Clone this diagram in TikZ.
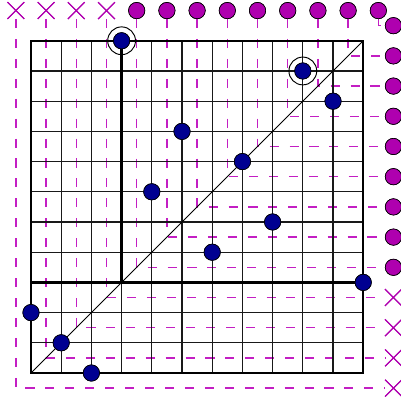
\documentclass[tikz,border=0pt]{standalone}
\usetikzlibrary{shapes.misc}
\definecolor{mag}{RGB}{175,0,175}
\definecolor{magline}{RGB}{195,30,195}
\definecolor{navy}{RGB}{0,0,145}
\tikzset{
  hook/.style={draw=magline, line width=1.2pt, dash pattern=on 0.3cm off 0.36cm},
  gridline/.style={draw=black!90, line width=1pt},
  boldline/.style={draw=black, line width=2.1pt},
  diag/.style={draw=black, line width=0.8pt},
  pdot/.style={circle, draw=black, line width=0.6pt, fill=navy, minimum size=0.54cm, inner sep=0pt},
  ring/.style={circle, draw=black, line width=0.9pt, minimum size=0.92cm, inner sep=0pt},
  mcirc/.style={circle, draw=black, line width=0.6pt, fill=mag, minimum size=0.54cm, inner sep=0pt},
  mcross/.style={cross out, draw=mag, line width=1pt, minimum size=0.52cm, inner sep=0pt},
}
\begin{document}
\begin{tikzpicture}[x=1cm,y=1cm]
\useasboundingbox (-1.026,-0.993) rectangle (12.25,12.35);
% marks on top and right
\foreach \j in {0,...,3} {
  \node[mcross] (t\j) at (\j-0.5,12) {};
  \node[mcross] (r\j) at (12,\j-0.5) {};
}
\foreach \j in {4,...,12} {
  \node[mcirc] (t\j) at (\j-0.5,12) {};
  \node[mcirc] (r\j) at (12,\j-0.5) {};
}
% hooks
\foreach \j in {0,...,12} {
  \coordinate (c\j) at (\j-0.5,\j-0.5);
  \draw[hook] (t\j) -- (c\j) -- (r\j);
}
% grid
\draw[gridline] (0,0) grid (11,11);
\draw[diag] (0,0) -- (11,11);
% permutation points
\node[pdot] (p0) at (2,0) {};
\node[pdot] (p1) at (1,1) {};
\node[pdot] (p2) at (0,2) {};
\node[pdot] (p3) at (11,3) {};
\node[pdot] (p4) at (6,4) {};
\node[pdot] (p5) at (8,5) {};
\node[pdot] (p6) at (4,6) {};
\node[pdot] (p7) at (7,7) {};
\node[pdot] (p8) at (5,8) {};
\node[pdot] (p9) at (10,9) {};
\node[pdot] (p10) at (9,10) {};
\node[pdot] (p11) at (3,11) {};
\coordinate (k1) at (3,3);
\coordinate (k2) at (0,3);
\coordinate (bl) at (0,0);
\coordinate (tr) at (11,11);
\draw[boldline] (bl) rectangle (tr);
\draw[boldline] (p11.center) -- (k1);
\draw[boldline] (k2) -- (p3.center);
% redraw dots on top
\foreach \i/\x/\y in {0/2/0,1/1/1,2/0/2,3/11/3,4/6/4,5/8/5,6/4/6,7/7/7,8/5/8,9/10/9,10/9/10,11/3/11}
  \node[pdot] at (\x,\y) {};
\node[ring] (q11) at (p11) {};
\node[ring] (q10) at (p10) {};
% marks on top of lines
\foreach \j in {0,...,3} {
  \node[mcross] at (t\j) {};
  \node[mcross] at (r\j) {};
}
\foreach \j in {4,...,12} {
  \node[mcirc] at (t\j) {};
  \node[mcirc] at (r\j) {};
}
\end{tikzpicture}
\end{document}
